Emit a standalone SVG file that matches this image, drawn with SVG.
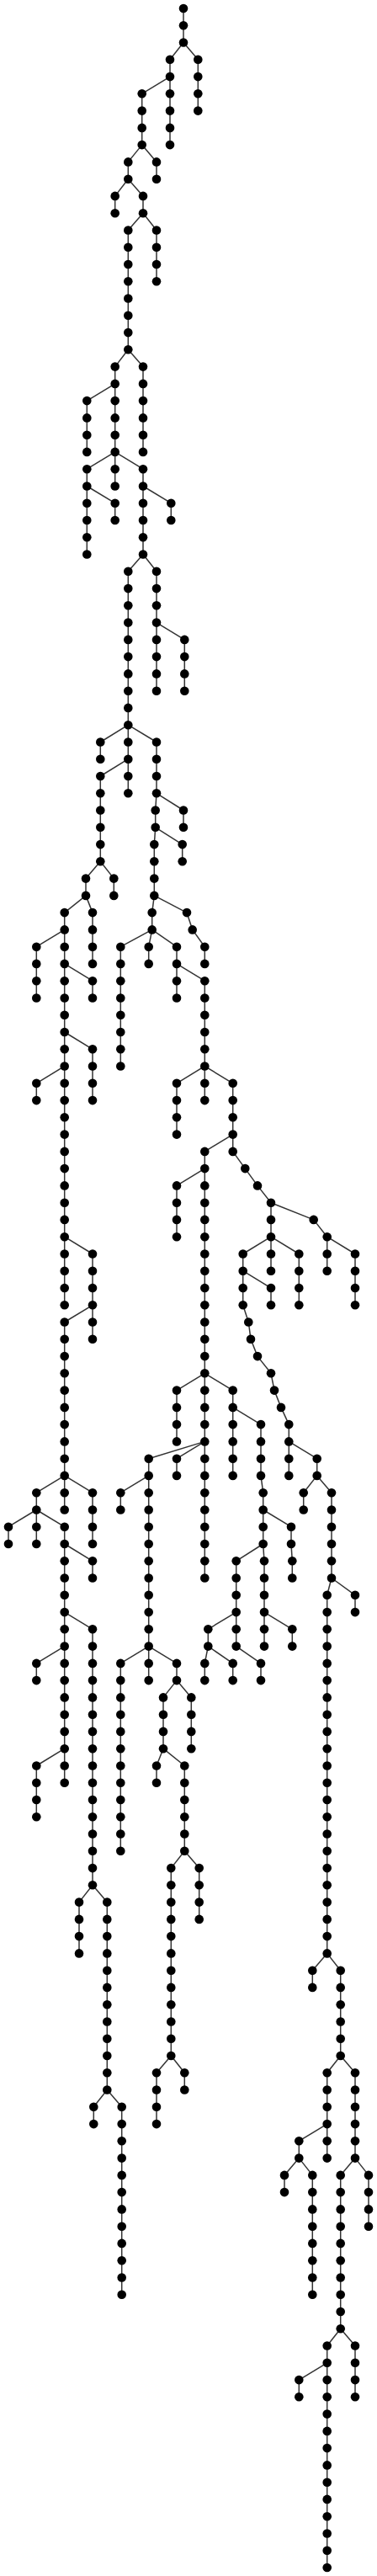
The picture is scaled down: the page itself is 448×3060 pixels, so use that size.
<svg xmlns="http://www.w3.org/2000/svg" width="448" height="3060" viewBox="0 0 448 3060">
<style>#links path{fill:none;stroke:#333;stroke-width:1.5}</style>
<defs><circle id="c" r="5.3" fill="#000"/></defs>
<rect width="448" height="3060" fill="#fff"/>
<g id="links">
<path d="M218 10V30.3"/><path d="M218 30.3V50.5"/>
<path d="M218 50.5L202 70.8"/><path d="M218 50.5L235.3 70.8"/>
<path d="M202 70.8V91.1"/><path d="M235.3 70.8V91.1"/>
<path d="M202 91.1L168.7 111.3"/><path d="M202 91.1V111.3"/><path d="M235.3 91.1V111.3"/>
<path d="M168.7 111.3V131.6"/><path d="M202 111.3V131.6"/><path d="M235.3 111.3V131.6"/>
<path d="M168.7 131.6V151.9"/><path d="M202 131.6V151.9"/>
<path d="M168.7 151.9V172.1"/><path d="M202 151.9V172.1"/>
<path d="M168.7 172.1L152.3 192.4"/><path d="M168.7 172.1L186 192.4"/>
<path d="M152.3 192.4V212.7"/><path d="M186 192.4V212.7"/>
<path d="M152.3 212.7L136.7 232.9"/><path d="M152.3 212.7L170 232.9"/>
<path d="M136.7 232.9V253.2"/><path d="M170 232.9V253.2"/>
<path d="M170 253.2L152.3 273.5"/><path d="M170 253.2L186 273.5"/>
<path d="M152.3 273.5V293.7"/><path d="M186 273.5V293.7"/>
<path d="M152.3 293.7V314"/><path d="M186 293.7V314"/>
<path d="M152.3 314V334.3"/><path d="M186 314V334.3"/>
<path d="M152.3 334.3V354.5"/><path d="M152.3 354.5V374.8"/><path d="M152.3 374.8V395.1"/><path d="M152.3 395.1V415.3"/>
<path d="M152.3 415.3L136.7 435.6"/><path d="M152.3 415.3L170 435.6"/>
<path d="M136.7 435.6V455.9"/><path d="M170 435.6V455.9"/>
<path d="M136.7 455.9L103.3 476.1"/><path d="M136.7 455.9V476.1"/><path d="M170 455.9V476.1"/>
<path d="M103.3 476.1V496.4"/><path d="M136.7 476.1V496.4"/><path d="M170 476.1V496.4"/>
<path d="M103.3 496.4V516.7"/><path d="M136.7 496.4V516.7"/><path d="M170 496.4V516.7"/>
<path d="M103.3 516.7V536.9"/><path d="M136.7 516.7V536.9"/><path d="M170 516.7V536.9"/>
<path d="M136.7 536.9L103.3 557.2"/><path d="M136.7 536.9V557.2"/><path d="M136.7 536.9L170 557.2"/>
<path d="M103.3 557.2V577.5"/><path d="M136.7 557.2V577.5"/><path d="M170 557.2V577.5"/>
<path d="M103.3 577.5V597.7"/><path d="M103.3 577.5L136.7 597.7"/><path d="M170 577.5V597.7"/><path d="M170 577.5L203.3 597.7"/>
<path d="M103.3 597.7V618"/><path d="M136.7 597.7V618"/><path d="M170 597.7V618"/><path d="M203.3 597.7V618"/>
<path d="M103.3 618V638.3"/><path d="M170 618V638.3"/>
<path d="M103.3 638.3V658.5"/><path d="M170 638.3V658.5"/>
<path d="M170 658.5L152.3 678.8"/><path d="M170 658.5L186 678.8"/>
<path d="M152.3 678.8V699.1"/><path d="M186 678.8V699.1"/>
<path d="M152.3 699.1V719.3"/><path d="M186 699.1V719.3"/>
<path d="M152.3 719.3V739.6"/><path d="M186 719.3V739.6"/>
<path d="M152.3 739.6V759.9"/><path d="M186 739.6V759.9"/><path d="M186 739.6L219.3 759.9"/>
<path d="M152.3 759.9V780.1"/><path d="M186 759.9V780.1"/><path d="M219.3 759.9V780.1"/>
<path d="M152.3 780.1V800.4"/><path d="M186 780.1V800.4"/><path d="M219.3 780.1V800.4"/>
<path d="M152.3 800.4V820.7"/><path d="M186 800.4V820.7"/><path d="M219.3 800.4V820.7"/>
<path d="M152.3 820.7V840.9"/><path d="M152.3 840.9V861.2"/>
<path d="M152.3 861.2L119.3 881.5"/><path d="M152.3 861.2V881.5"/><path d="M152.3 861.2L186 881.5"/>
<path d="M119.3 881.5V901.7"/><path d="M152.3 881.5V901.7"/><path d="M186 881.5V901.7"/>
<path d="M152.3 901.7L119.3 922"/><path d="M152.3 901.7V922"/><path d="M186 901.7V922"/>
<path d="M119.3 922V942.3"/><path d="M152.3 922V942.3"/><path d="M186 922V942.3"/>
<path d="M119.3 942.3V962.5"/><path d="M186 942.3L184.7 962.5"/><path d="M186 942.3L218 962.5"/>
<path d="M119.3 962.5V982.8"/><path d="M184.7 962.5V982.8"/><path d="M218 962.5V982.8"/>
<path d="M119.3 982.8V1003.1"/><path d="M184.7 982.8L183.3 1003.1"/><path d="M184.7 982.8L216.7 1003.1"/>
<path d="M119.3 1003.1V1023.3"/><path d="M183.3 1003.1V1023.3"/><path d="M216.7 1003.1V1023.3"/>
<path d="M119.3 1023.3L102 1043.6"/><path d="M119.3 1023.3L135.3 1043.6"/><path d="M183.3 1023.3V1043.6"/>
<path d="M102 1043.6V1063.9"/><path d="M135.3 1043.6V1063.9"/><path d="M183.3 1043.6V1063.9"/>
<path d="M102 1063.9L76.7 1084.1"/><path d="M102 1063.9L110 1084.1"/><path d="M183.3 1063.9L180.7 1084.1"/><path d="M183.3 1063.9L222 1084.1"/>
<path d="M76.7 1084.1V1104.4"/><path d="M110 1084.1V1104.4"/><path d="M180.7 1084.1V1104.4"/><path d="M222 1084.1L228.7 1104.4"/>
<path d="M76.7 1104.4L43.3 1124.7"/><path d="M76.7 1104.4V1124.7"/><path d="M110 1104.4V1124.7"/><path d="M180.7 1104.4L143.3 1124.7"/><path d="M180.7 1104.4L176.7 1124.7"/><path d="M180.7 1104.4L210 1124.7"/><path d="M228.7 1104.4L243.3 1124.7"/>
<path d="M43.3 1124.7V1144.9"/><path d="M76.7 1124.7V1144.9"/><path d="M110 1124.7V1144.9"/><path d="M143.3 1124.7V1144.9"/><path d="M176.7 1124.7V1144.9"/><path d="M210 1124.7V1144.9"/><path d="M243.3 1124.7V1144.9"/>
<path d="M43.3 1144.9V1165.2"/><path d="M76.7 1144.9V1165.2"/><path d="M76.7 1144.9L110 1165.2"/><path d="M143.3 1144.9V1165.2"/><path d="M210 1144.9V1165.2"/><path d="M210 1144.9L243.3 1165.2"/>
<path d="M43.3 1165.2V1185.5"/><path d="M76.7 1165.2V1185.5"/><path d="M110 1165.2V1185.5"/><path d="M143.3 1165.2V1185.5"/><path d="M210 1165.2V1185.5"/><path d="M243.3 1165.2V1185.5"/>
<path d="M76.7 1185.5V1205.7"/><path d="M143.3 1185.5V1205.7"/><path d="M243.3 1185.5V1205.7"/>
<path d="M76.7 1205.7V1226"/><path d="M143.3 1205.7V1226"/><path d="M243.3 1205.7V1226"/>
<path d="M76.7 1226V1246.3"/><path d="M76.7 1226L110 1246.3"/><path d="M143.3 1226V1246.3"/><path d="M243.3 1226V1246.3"/>
<path d="M76.7 1246.3V1266.5"/><path d="M110 1246.3V1266.5"/><path d="M143.3 1246.3V1266.5"/><path d="M243.3 1246.3V1266.5"/>
<path d="M76.7 1266.5L43.3 1286.8"/><path d="M76.7 1266.5V1286.8"/><path d="M110 1266.5V1286.8"/><path d="M243.3 1266.5L210 1286.8"/><path d="M243.3 1266.5V1286.8"/><path d="M243.3 1266.5L276.7 1286.8"/>
<path d="M43.3 1286.8V1307.1"/><path d="M76.7 1286.8V1307.1"/><path d="M110 1286.8V1307.1"/><path d="M210 1286.8V1307.1"/><path d="M243.3 1286.8V1307.1"/><path d="M276.7 1286.8V1307.1"/>
<path d="M76.7 1307.1V1327.3"/><path d="M210 1307.1V1327.3"/><path d="M276.7 1307.1V1327.3"/>
<path d="M76.7 1327.3V1347.6"/><path d="M210 1327.3V1347.6"/><path d="M276.7 1327.3V1347.6"/>
<path d="M76.7 1347.6V1367.9"/><path d="M276.7 1347.6L243.3 1367.9"/><path d="M276.7 1347.6V1367.9"/>
<path d="M76.7 1367.9V1388.1"/><path d="M243.3 1367.9V1388.1"/><path d="M276.7 1367.9L291.3 1388.1"/>
<path d="M76.7 1388.1V1408.4"/><path d="M243.3 1388.1L210 1408.4"/><path d="M243.3 1388.1V1408.4"/><path d="M291.3 1388.1L306 1408.4"/>
<path d="M76.7 1408.4V1428.7"/><path d="M210 1408.4V1428.7"/><path d="M243.3 1408.4V1428.7"/><path d="M306 1408.4L322 1428.7"/>
<path d="M76.7 1428.7V1448.9"/><path d="M210 1428.7V1448.9"/><path d="M243.3 1428.7V1448.9"/><path d="M322 1428.7V1448.9"/><path d="M322 1428.7L372.7 1448.9"/>
<path d="M76.7 1448.9V1469.2"/><path d="M210 1448.9V1469.2"/><path d="M243.3 1448.9V1469.2"/><path d="M322 1448.9V1469.2"/><path d="M372.7 1448.9L388.7 1469.2"/>
<path d="M76.7 1469.2V1489.5"/><path d="M76.7 1469.2L110 1489.5"/><path d="M243.3 1469.2V1489.5"/><path d="M322 1469.2L288.7 1489.5"/><path d="M322 1469.2V1489.5"/><path d="M322 1469.2L355.3 1489.5"/><path d="M388.7 1469.2V1489.5"/><path d="M388.7 1469.2L422 1489.5"/>
<path d="M76.7 1489.5V1509.7"/><path d="M110 1489.5V1509.7"/><path d="M243.3 1489.5V1509.7"/><path d="M288.7 1489.5V1509.7"/><path d="M322 1489.5V1509.7"/><path d="M355.3 1489.5V1509.7"/><path d="M388.7 1489.5V1509.7"/><path d="M422 1489.5V1509.7"/>
<path d="M76.7 1509.7V1530"/><path d="M110 1509.7V1530"/><path d="M243.3 1509.7V1530"/><path d="M288.7 1509.7V1530"/><path d="M288.7 1509.7L322 1530"/><path d="M355.3 1509.7V1530"/><path d="M422 1509.7V1530"/>
<path d="M76.7 1530V1550.3"/><path d="M110 1530V1550.3"/><path d="M243.3 1530V1550.3"/><path d="M288.7 1530V1550.3"/><path d="M322 1530V1550.3"/><path d="M355.3 1530V1550.3"/><path d="M422 1530V1550.3"/>
<path d="M110 1550.3L76.7 1570.5"/><path d="M110 1550.3V1570.5"/><path d="M243.3 1550.3V1570.5"/><path d="M288.7 1550.3L295.3 1570.5"/>
<path d="M76.7 1570.5V1590.8"/><path d="M110 1570.5V1590.8"/><path d="M243.3 1570.5V1590.8"/><path d="M295.3 1570.5L298 1590.8"/>
<path d="M76.7 1590.8V1611.1"/><path d="M243.3 1590.8V1611.1"/><path d="M298 1590.8L306 1611.1"/>
<path d="M76.7 1611.1V1631.3"/><path d="M243.3 1611.1V1631.3"/><path d="M306 1611.1L322 1631.3"/>
<path d="M76.7 1631.3V1651.6"/><path d="M243.3 1631.3L210 1651.6"/><path d="M243.3 1631.3V1651.6"/><path d="M243.3 1631.3L276.7 1651.6"/><path d="M322 1631.3L326 1651.6"/>
<path d="M76.7 1651.6V1671.9"/><path d="M210 1651.6V1671.9"/><path d="M243.3 1651.6V1671.9"/><path d="M276.7 1651.6V1671.9"/><path d="M326 1651.6L334 1671.9"/>
<path d="M76.7 1671.9V1692.1"/><path d="M210 1671.9V1692.1"/><path d="M243.3 1671.9V1692.1"/><path d="M276.7 1671.9V1692.1"/><path d="M276.7 1671.9L310 1692.1"/><path d="M334 1671.9L343.3 1692.1"/>
<path d="M76.7 1692.1V1712.4"/><path d="M210 1692.1V1712.4"/><path d="M243.3 1692.1V1712.4"/><path d="M276.7 1692.1V1712.4"/><path d="M310 1692.1V1712.4"/><path d="M343.3 1692.1V1712.4"/>
<path d="M76.7 1712.4V1732.7"/><path d="M243.3 1712.4L176.7 1732.7"/><path d="M243.3 1712.4L210 1732.7"/><path d="M243.3 1712.4V1732.7"/><path d="M276.7 1712.4V1732.7"/><path d="M310 1712.4V1732.7"/><path d="M343.3 1712.4V1732.7"/><path d="M343.3 1712.4L376.7 1732.7"/>
<path d="M76.7 1732.7V1752.9"/><path d="M176.7 1732.7V1752.9"/><path d="M210 1732.7V1752.9"/><path d="M243.3 1732.7V1752.9"/><path d="M276.7 1732.7V1752.9"/><path d="M310 1732.7V1752.9"/><path d="M343.3 1732.7V1752.9"/><path d="M376.7 1732.7V1752.9"/>
<path d="M76.7 1752.9L43.3 1773.2"/><path d="M76.7 1752.9V1773.2"/><path d="M76.7 1752.9L110 1773.2"/><path d="M176.7 1752.9L143.3 1773.2"/><path d="M176.7 1752.9V1773.2"/><path d="M243.3 1752.9V1773.2"/><path d="M310 1752.9L312.7 1773.2"/><path d="M376.7 1752.9L360.7 1773.2"/><path d="M376.7 1752.9L394 1773.2"/>
<path d="M43.3 1773.2V1793.5"/><path d="M76.7 1773.2V1793.5"/><path d="M110 1773.2V1793.5"/><path d="M143.3 1773.2V1793.5"/><path d="M176.7 1773.2V1793.5"/><path d="M243.3 1773.2V1793.5"/><path d="M312.7 1773.2V1793.5"/><path d="M360.7 1773.2V1793.5"/><path d="M394 1773.2V1793.5"/>
<path d="M43.3 1793.5L10 1813.7"/><path d="M43.3 1793.5V1813.7"/><path d="M43.3 1793.5L76.7 1813.7"/><path d="M110 1793.5V1813.7"/><path d="M176.7 1793.5V1813.7"/><path d="M243.3 1793.5V1813.7"/><path d="M312.7 1793.5V1813.7"/><path d="M312.7 1793.5L346 1813.7"/><path d="M394 1793.5V1813.7"/>
<path d="M10 1813.7V1834"/><path d="M43.3 1813.7V1834"/><path d="M76.7 1813.7V1834"/><path d="M110 1813.7V1834"/><path d="M176.7 1813.7V1834"/><path d="M243.3 1813.7V1834"/><path d="M312.7 1813.7V1834"/><path d="M346 1813.7V1834"/><path d="M394 1813.7V1834"/>
<path d="M76.7 1834V1854.3"/><path d="M76.7 1834L110 1854.3"/><path d="M176.7 1834V1854.3"/><path d="M243.3 1834V1854.3"/><path d="M312.7 1834L280.7 1854.3"/><path d="M312.7 1834L314 1854.3"/><path d="M346 1834L347.3 1854.3"/><path d="M394 1834V1854.3"/>
<path d="M76.7 1854.3V1874.5"/><path d="M110 1854.3V1874.5"/><path d="M176.7 1854.3V1874.5"/><path d="M243.3 1854.3V1874.5"/><path d="M280.7 1854.3V1874.5"/><path d="M314 1854.3V1874.5"/><path d="M347.3 1854.3V1874.5"/><path d="M394 1854.3V1874.5"/>
<path d="M76.7 1874.5V1894.8"/><path d="M176.7 1874.5V1894.8"/><path d="M280.7 1874.5V1894.8"/><path d="M314 1874.5V1894.8"/><path d="M394 1874.5L388.7 1894.8"/><path d="M394 1874.5L422 1894.8"/>
<path d="M76.7 1894.8V1915.1"/><path d="M176.7 1894.8V1915.1"/><path d="M280.7 1894.8V1915.1"/><path d="M314 1894.8V1915.1"/><path d="M388.7 1894.8V1915.1"/><path d="M422 1894.8V1915.1"/>
<path d="M76.7 1915.1V1935.3"/><path d="M76.7 1915.1L110 1935.3"/><path d="M176.7 1915.1V1935.3"/><path d="M280.7 1915.1L247.3 1935.3"/><path d="M280.7 1915.1V1935.3"/><path d="M314 1915.1V1935.3"/><path d="M314 1915.1L347.3 1935.3"/><path d="M388.7 1915.1V1935.3"/>
<path d="M76.7 1935.3V1955.6"/><path d="M110 1935.3V1955.6"/><path d="M176.7 1935.3V1955.6"/><path d="M247.3 1935.3V1955.6"/><path d="M280.7 1935.3V1955.6"/><path d="M314 1935.3V1955.6"/><path d="M347.3 1935.3V1955.6"/><path d="M388.7 1935.3V1955.6"/>
<path d="M76.7 1955.6L43.3 1975.9"/><path d="M76.7 1955.6V1975.9"/><path d="M110 1955.6V1975.9"/><path d="M176.7 1955.6L143.3 1975.9"/><path d="M176.7 1955.6V1975.9"/><path d="M176.7 1955.6L210 1975.9"/><path d="M247.3 1955.6L243.3 1975.9"/><path d="M247.3 1955.6L276.7 1975.9"/><path d="M280.7 1955.6L310 1975.9"/><path d="M388.7 1955.6V1975.9"/>
<path d="M43.3 1975.9V1996.1"/><path d="M76.7 1975.9V1996.1"/><path d="M110 1975.9V1996.1"/><path d="M143.3 1975.9V1996.1"/><path d="M176.7 1975.9V1996.1"/><path d="M210 1975.9V1996.1"/><path d="M243.3 1975.9V1996.1"/><path d="M276.7 1975.9V1996.1"/><path d="M310 1975.9V1996.1"/><path d="M388.7 1975.9V1996.1"/>
<path d="M76.7 1996.1V2016.4"/><path d="M110 1996.1V2016.4"/><path d="M143.3 1996.1V2016.4"/><path d="M210 1996.1L194 2016.4"/><path d="M210 1996.1L227.3 2016.4"/><path d="M388.7 1996.1V2016.4"/>
<path d="M76.7 2016.4V2036.7"/><path d="M110 2016.4V2036.7"/><path d="M143.3 2016.4V2036.7"/><path d="M194 2016.4V2036.7"/><path d="M227.3 2016.4V2036.7"/><path d="M388.7 2016.4V2036.7"/>
<path d="M76.7 2036.7V2056.9"/><path d="M110 2036.7V2056.9"/><path d="M143.3 2036.7V2056.9"/><path d="M194 2036.7V2056.9"/><path d="M227.3 2036.7V2056.9"/><path d="M388.7 2036.7V2056.9"/>
<path d="M76.7 2056.9V2077.2"/><path d="M110 2056.9V2077.2"/><path d="M143.3 2056.9V2077.2"/><path d="M194 2056.9V2077.2"/><path d="M227.3 2056.9V2077.2"/><path d="M388.7 2056.9V2077.2"/>
<path d="M76.7 2077.2L43.3 2097.5"/><path d="M76.7 2077.2V2097.5"/><path d="M110 2077.2V2097.5"/><path d="M143.3 2077.2V2097.5"/><path d="M194 2077.2L186 2097.5"/><path d="M194 2077.2L219.3 2097.5"/><path d="M388.7 2077.2V2097.5"/>
<path d="M43.3 2097.5V2117.7"/><path d="M76.7 2097.5V2117.7"/><path d="M110 2097.5V2117.7"/><path d="M143.3 2097.5V2117.7"/><path d="M186 2097.5V2117.7"/><path d="M219.3 2097.5V2117.7"/><path d="M388.7 2097.5V2117.7"/>
<path d="M43.3 2117.7V2138"/><path d="M110 2117.7V2138"/><path d="M143.3 2117.7V2138"/><path d="M219.3 2117.7V2138"/><path d="M388.7 2117.7V2138"/>
<path d="M43.3 2138V2158.3"/><path d="M110 2138V2158.3"/><path d="M143.3 2138V2158.3"/><path d="M219.3 2138V2158.3"/><path d="M388.7 2138V2158.3"/>
<path d="M110 2158.3V2178.5"/><path d="M143.3 2158.3V2178.5"/><path d="M219.3 2158.3V2178.5"/><path d="M388.7 2158.3V2178.5"/>
<path d="M110 2178.5V2198.8"/><path d="M143.3 2178.5V2198.8"/><path d="M219.3 2178.5V2198.8"/><path d="M388.7 2178.5V2198.8"/>
<path d="M110 2198.8V2219.1"/><path d="M219.3 2198.8L203.3 2219.1"/><path d="M219.3 2198.8L236.7 2219.1"/><path d="M388.7 2198.8V2219.1"/>
<path d="M110 2219.1V2239.3"/><path d="M203.3 2219.1V2239.3"/><path d="M236.7 2219.1V2239.3"/><path d="M388.7 2219.1V2239.3"/>
<path d="M110 2239.3L94 2259.6"/><path d="M110 2239.3L127.3 2259.6"/><path d="M203.3 2239.3V2259.6"/><path d="M236.7 2239.3V2259.6"/><path d="M388.7 2239.3V2259.6"/>
<path d="M94 2259.6V2279.9"/><path d="M127.3 2259.6V2279.9"/><path d="M203.3 2259.6V2279.9"/><path d="M236.7 2259.6V2279.9"/><path d="M388.7 2259.6V2279.9"/>
<path d="M94 2279.9V2300.1"/><path d="M127.3 2279.9V2300.1"/><path d="M203.3 2279.9V2300.1"/><path d="M388.7 2279.9V2300.1"/>
<path d="M94 2300.1V2320.4"/><path d="M127.3 2300.1V2320.4"/><path d="M203.3 2300.1V2320.4"/><path d="M388.7 2300.1V2320.4"/>
<path d="M127.3 2320.4V2340.7"/><path d="M203.3 2320.4V2340.7"/><path d="M388.7 2320.4L371.3 2340.7"/><path d="M388.7 2320.4L404.7 2340.7"/>
<path d="M127.3 2340.7V2360.9"/><path d="M203.3 2340.7V2360.9"/><path d="M371.3 2340.7V2360.9"/><path d="M404.7 2340.7V2360.9"/>
<path d="M127.3 2360.9V2381.2"/><path d="M203.3 2360.9V2381.2"/><path d="M404.7 2360.9V2381.2"/>
<path d="M127.3 2381.2V2401.5"/><path d="M203.3 2381.2V2401.5"/><path d="M404.7 2381.2V2401.5"/>
<path d="M127.3 2401.5V2421.7"/><path d="M203.3 2401.5V2421.7"/><path d="M404.7 2401.5V2421.7"/>
<path d="M127.3 2421.7V2442"/><path d="M203.3 2421.7V2442"/><path d="M404.7 2421.7V2442"/>
<path d="M127.3 2442V2462.3"/><path d="M203.3 2442L186 2462.3"/><path d="M203.3 2442L219.3 2462.3"/><path d="M404.7 2442L388.7 2462.3"/><path d="M404.7 2442L422 2462.3"/>
<path d="M127.3 2462.3V2482.5"/><path d="M186 2462.3V2482.5"/><path d="M219.3 2462.3V2482.5"/><path d="M388.7 2462.3V2482.5"/><path d="M422 2462.3V2482.5"/>
<path d="M127.3 2482.5L111.3 2502.8"/><path d="M127.3 2482.5L144.7 2502.8"/><path d="M186 2482.5V2502.8"/><path d="M388.7 2482.5V2502.8"/><path d="M422 2482.5V2502.8"/>
<path d="M111.3 2502.8V2523.1"/><path d="M144.7 2502.8V2523.1"/><path d="M186 2502.8V2523.1"/><path d="M388.7 2502.8V2523.1"/><path d="M422 2502.8V2523.1"/>
<path d="M144.7 2523.1V2543.3"/><path d="M388.7 2523.1L355.3 2543.3"/><path d="M388.7 2523.1V2543.3"/><path d="M422 2523.1V2543.3"/>
<path d="M144.7 2543.3V2563.6"/><path d="M355.3 2543.3V2563.6"/><path d="M388.7 2543.3V2563.6"/><path d="M422 2543.3V2563.6"/>
<path d="M144.7 2563.6V2583.9"/><path d="M355.3 2563.6L338 2583.9"/><path d="M355.3 2563.6L371.3 2583.9"/><path d="M422 2563.6L404.7 2583.9"/><path d="M422 2563.6L438 2583.9"/>
<path d="M144.7 2583.9V2604.1"/><path d="M338 2583.9V2604.1"/><path d="M371.3 2583.9V2604.1"/><path d="M404.7 2583.9V2604.1"/><path d="M438 2583.9V2604.1"/>
<path d="M144.7 2604.1V2624.4"/><path d="M371.3 2604.1V2624.4"/><path d="M404.7 2604.1V2624.4"/><path d="M438 2604.1V2624.4"/>
<path d="M144.7 2624.4V2644.7"/><path d="M371.3 2624.4V2644.7"/><path d="M404.7 2624.4V2644.7"/><path d="M438 2624.4V2644.7"/>
<path d="M144.7 2644.7V2664.9"/><path d="M371.3 2644.7V2664.9"/><path d="M404.7 2644.7V2664.9"/>
<path d="M144.7 2664.9V2685.2"/><path d="M371.3 2664.9V2685.2"/><path d="M404.7 2664.9V2685.2"/>
<path d="M144.7 2685.2V2705.5"/><path d="M371.3 2685.2V2705.5"/><path d="M404.7 2685.2V2705.5"/>
<path d="M144.7 2705.5V2725.7"/><path d="M371.3 2705.5V2725.7"/><path d="M404.7 2705.5V2725.7"/>
<path d="M404.7 2725.7V2746"/><path d="M404.7 2746V2766.3"/>
<path d="M404.7 2766.3L388.7 2786.5"/><path d="M404.7 2766.3L422 2786.5"/>
<path d="M388.7 2786.5V2806.8"/><path d="M422 2786.5V2806.8"/>
<path d="M388.7 2806.8L355.3 2827.1"/><path d="M388.7 2806.8V2827.1"/><path d="M422 2806.8V2827.1"/>
<path d="M355.3 2827.1V2847.3"/><path d="M388.7 2827.1V2847.3"/><path d="M422 2827.1V2847.3"/>
<path d="M388.7 2847.3V2867.6"/><path d="M388.7 2867.6V2887.9"/><path d="M388.7 2887.9V2908.1"/><path d="M388.7 2908.1V2928.4"/><path d="M388.7 2928.4V2948.7"/><path d="M388.7 2948.7V2968.9"/><path d="M388.7 2968.9V2989.2"/><path d="M388.7 2989.2V3009.5"/><path d="M388.7 3009.5V3029.7"/><path d="M388.7 3029.7V3050"/>
</g>
<g id="nodes">
<g id="n0-1"><use href="#c" x="218" y="10"/></g>
<g id="n1-1"><use href="#c" x="218" y="30.3"/></g>
<g id="n2-1"><use href="#c" x="218" y="50.5"/></g>
<g id="n3-1"><use href="#c" x="202" y="70.8"/></g><g id="n3-2"><use href="#c" x="235.3" y="70.8"/></g>
<g id="n4-1"><use href="#c" x="202" y="91.1"/></g><g id="n4-2"><use href="#c" x="235.3" y="91.1"/></g>
<g id="n5-1"><use href="#c" x="168.7" y="111.3"/></g><g id="n5-2"><use href="#c" x="202" y="111.3"/></g><g id="n5-3"><use href="#c" x="235.3" y="111.3"/></g>
<g id="n6-1"><use href="#c" x="168.7" y="131.6"/></g><g id="n6-2"><use href="#c" x="202" y="131.6"/></g><g id="n6-3"><use href="#c" x="235.3" y="131.6"/></g>
<g id="n7-1"><use href="#c" x="168.7" y="151.9"/></g><g id="n7-2"><use href="#c" x="202" y="151.9"/></g>
<g id="n8-1"><use href="#c" x="168.7" y="172.1"/></g><g id="n8-2"><use href="#c" x="202" y="172.1"/></g>
<g id="n9-1"><use href="#c" x="152.3" y="192.4"/></g><g id="n9-2"><use href="#c" x="186" y="192.4"/></g>
<g id="n10-1"><use href="#c" x="152.3" y="212.7"/></g><g id="n10-2"><use href="#c" x="186" y="212.7"/></g>
<g id="n11-1"><use href="#c" x="136.7" y="232.9"/></g><g id="n11-2"><use href="#c" x="170" y="232.9"/></g>
<g id="n12-1"><use href="#c" x="136.7" y="253.2"/></g><g id="n12-2"><use href="#c" x="170" y="253.2"/></g>
<g id="n13-1"><use href="#c" x="152.3" y="273.5"/></g><g id="n13-2"><use href="#c" x="186" y="273.5"/></g>
<g id="n14-1"><use href="#c" x="152.3" y="293.7"/></g><g id="n14-2"><use href="#c" x="186" y="293.7"/></g>
<g id="n15-1"><use href="#c" x="152.3" y="314"/></g><g id="n15-2"><use href="#c" x="186" y="314"/></g>
<g id="n16-1"><use href="#c" x="152.3" y="334.3"/></g><g id="n16-2"><use href="#c" x="186" y="334.3"/></g>
<g id="n17-1"><use href="#c" x="152.3" y="354.5"/></g>
<g id="n18-1"><use href="#c" x="152.3" y="374.8"/></g>
<g id="n19-1"><use href="#c" x="152.3" y="395.1"/></g>
<g id="n20-1"><use href="#c" x="152.3" y="415.3"/></g>
<g id="n21-1"><use href="#c" x="136.7" y="435.6"/></g><g id="n21-2"><use href="#c" x="170" y="435.6"/></g>
<g id="n22-1"><use href="#c" x="136.7" y="455.9"/></g><g id="n22-2"><use href="#c" x="170" y="455.9"/></g>
<g id="n23-1"><use href="#c" x="103.3" y="476.1"/></g><g id="n23-2"><use href="#c" x="136.7" y="476.1"/></g><g id="n23-3"><use href="#c" x="170" y="476.1"/></g>
<g id="n24-1"><use href="#c" x="103.3" y="496.4"/></g><g id="n24-2"><use href="#c" x="136.7" y="496.4"/></g><g id="n24-3"><use href="#c" x="170" y="496.4"/></g>
<g id="n25-1"><use href="#c" x="103.3" y="516.7"/></g><g id="n25-2"><use href="#c" x="136.7" y="516.7"/></g><g id="n25-3"><use href="#c" x="170" y="516.7"/></g>
<g id="n26-1"><use href="#c" x="103.3" y="536.9"/></g><g id="n26-2"><use href="#c" x="136.7" y="536.9"/></g><g id="n26-3"><use href="#c" x="170" y="536.9"/></g>
<g id="n27-1"><use href="#c" x="103.3" y="557.2"/></g><g id="n27-2"><use href="#c" x="136.7" y="557.2"/></g><g id="n27-3"><use href="#c" x="170" y="557.2"/></g>
<g id="n28-1"><use href="#c" x="103.3" y="577.5"/></g><g id="n28-2"><use href="#c" x="136.7" y="577.5"/></g><g id="n28-3"><use href="#c" x="170" y="577.5"/></g>
<g id="n29-1"><use href="#c" x="103.3" y="597.7"/></g><g id="n29-2"><use href="#c" x="136.7" y="597.7"/></g><g id="n29-3"><use href="#c" x="170" y="597.7"/></g><g id="n29-4"><use href="#c" x="203.3" y="597.7"/></g>
<g id="n30-1"><use href="#c" x="103.3" y="618"/></g><g id="n30-2"><use href="#c" x="136.7" y="618"/></g><g id="n30-3"><use href="#c" x="170" y="618"/></g><g id="n30-4"><use href="#c" x="203.3" y="618"/></g>
<g id="n31-1"><use href="#c" x="103.3" y="638.3"/></g><g id="n31-2"><use href="#c" x="170" y="638.3"/></g>
<g id="n32-1"><use href="#c" x="103.3" y="658.5"/></g><g id="n32-2"><use href="#c" x="170" y="658.5"/></g>
<g id="n33-1"><use href="#c" x="152.3" y="678.8"/></g><g id="n33-2"><use href="#c" x="186" y="678.8"/></g>
<g id="n34-1"><use href="#c" x="152.3" y="699.1"/></g><g id="n34-2"><use href="#c" x="186" y="699.1"/></g>
<g id="n35-1"><use href="#c" x="152.3" y="719.3"/></g><g id="n35-2"><use href="#c" x="186" y="719.3"/></g>
<g id="n36-1"><use href="#c" x="152.3" y="739.6"/></g><g id="n36-2"><use href="#c" x="186" y="739.6"/></g>
<g id="n37-1"><use href="#c" x="152.3" y="759.9"/></g><g id="n37-2"><use href="#c" x="186" y="759.9"/></g><g id="n37-3"><use href="#c" x="219.3" y="759.9"/></g>
<g id="n38-1"><use href="#c" x="152.3" y="780.1"/></g><g id="n38-2"><use href="#c" x="186" y="780.1"/></g><g id="n38-3"><use href="#c" x="219.3" y="780.1"/></g>
<g id="n39-1"><use href="#c" x="152.3" y="800.4"/></g><g id="n39-2"><use href="#c" x="186" y="800.4"/></g><g id="n39-3"><use href="#c" x="219.3" y="800.4"/></g>
<g id="n40-1"><use href="#c" x="152.3" y="820.7"/></g><g id="n40-2"><use href="#c" x="186" y="820.7"/></g><g id="n40-3"><use href="#c" x="219.3" y="820.7"/></g>
<g id="n41-1"><use href="#c" x="152.3" y="840.9"/></g>
<g id="n42-1"><use href="#c" x="152.3" y="861.2"/></g>
<g id="n43-1"><use href="#c" x="119.3" y="881.5"/></g><g id="n43-2"><use href="#c" x="152.3" y="881.5"/></g><g id="n43-3"><use href="#c" x="186" y="881.5"/></g>
<g id="n44-1"><use href="#c" x="119.3" y="901.7"/></g><g id="n44-2"><use href="#c" x="152.3" y="901.7"/></g><g id="n44-3"><use href="#c" x="186" y="901.7"/></g>
<g id="n45-1"><use href="#c" x="119.3" y="922"/></g><g id="n45-2"><use href="#c" x="152.3" y="922"/></g><g id="n45-3"><use href="#c" x="186" y="922"/></g>
<g id="n46-1"><use href="#c" x="119.3" y="942.3"/></g><g id="n46-2"><use href="#c" x="152.3" y="942.3"/></g><g id="n46-3"><use href="#c" x="186" y="942.3"/></g>
<g id="n47-1"><use href="#c" x="119.3" y="962.5"/></g><g id="n47-2"><use href="#c" x="184.7" y="962.5"/></g><g id="n47-3"><use href="#c" x="218" y="962.5"/></g>
<g id="n48-1"><use href="#c" x="119.3" y="982.8"/></g><g id="n48-2"><use href="#c" x="184.7" y="982.8"/></g><g id="n48-3"><use href="#c" x="218" y="982.8"/></g>
<g id="n49-1"><use href="#c" x="119.3" y="1003.1"/></g><g id="n49-2"><use href="#c" x="183.3" y="1003.1"/></g><g id="n49-3"><use href="#c" x="216.7" y="1003.1"/></g>
<g id="n50-1"><use href="#c" x="119.3" y="1023.3"/></g><g id="n50-2"><use href="#c" x="183.3" y="1023.3"/></g><g id="n50-3"><use href="#c" x="216.7" y="1023.3"/></g>
<g id="n51-1"><use href="#c" x="102" y="1043.6"/></g><g id="n51-2"><use href="#c" x="135.3" y="1043.6"/></g><g id="n51-3"><use href="#c" x="183.3" y="1043.6"/></g>
<g id="n52-1"><use href="#c" x="102" y="1063.9"/></g><g id="n52-2"><use href="#c" x="135.3" y="1063.9"/></g><g id="n52-3"><use href="#c" x="183.3" y="1063.9"/></g>
<g id="n53-1"><use href="#c" x="76.7" y="1084.1"/></g><g id="n53-2"><use href="#c" x="110" y="1084.1"/></g><g id="n53-3"><use href="#c" x="180.7" y="1084.1"/></g><g id="n53-4"><use href="#c" x="222" y="1084.1"/></g>
<g id="n54-1"><use href="#c" x="76.7" y="1104.4"/></g><g id="n54-2"><use href="#c" x="110" y="1104.4"/></g><g id="n54-3"><use href="#c" x="180.7" y="1104.4"/></g><g id="n54-4"><use href="#c" x="228.7" y="1104.4"/></g>
<g id="n55-1"><use href="#c" x="43.3" y="1124.7"/></g><g id="n55-2"><use href="#c" x="76.7" y="1124.7"/></g><g id="n55-3"><use href="#c" x="110" y="1124.7"/></g><g id="n55-4"><use href="#c" x="143.3" y="1124.7"/></g><g id="n55-5"><use href="#c" x="176.7" y="1124.7"/></g><g id="n55-6"><use href="#c" x="210" y="1124.7"/></g><g id="n55-7"><use href="#c" x="243.3" y="1124.7"/></g>
<g id="n56-1"><use href="#c" x="43.3" y="1144.9"/></g><g id="n56-2"><use href="#c" x="76.7" y="1144.9"/></g><g id="n56-3"><use href="#c" x="110" y="1144.9"/></g><g id="n56-4"><use href="#c" x="143.3" y="1144.9"/></g><g id="n56-5"><use href="#c" x="176.7" y="1144.9"/></g><g id="n56-6"><use href="#c" x="210" y="1144.9"/></g><g id="n56-7"><use href="#c" x="243.3" y="1144.9"/></g>
<g id="n57-1"><use href="#c" x="43.3" y="1165.2"/></g><g id="n57-2"><use href="#c" x="76.7" y="1165.2"/></g><g id="n57-3"><use href="#c" x="110" y="1165.2"/></g><g id="n57-4"><use href="#c" x="143.3" y="1165.2"/></g><g id="n57-5"><use href="#c" x="210" y="1165.2"/></g><g id="n57-6"><use href="#c" x="243.3" y="1165.2"/></g>
<g id="n58-1"><use href="#c" x="43.3" y="1185.5"/></g><g id="n58-2"><use href="#c" x="76.7" y="1185.5"/></g><g id="n58-3"><use href="#c" x="110" y="1185.5"/></g><g id="n58-4"><use href="#c" x="143.3" y="1185.5"/></g><g id="n58-5"><use href="#c" x="210" y="1185.5"/></g><g id="n58-6"><use href="#c" x="243.3" y="1185.5"/></g>
<g id="n59-1"><use href="#c" x="76.7" y="1205.7"/></g><g id="n59-2"><use href="#c" x="143.3" y="1205.7"/></g><g id="n59-3"><use href="#c" x="243.3" y="1205.7"/></g>
<g id="n60-1"><use href="#c" x="76.7" y="1226"/></g><g id="n60-2"><use href="#c" x="143.3" y="1226"/></g><g id="n60-3"><use href="#c" x="243.3" y="1226"/></g>
<g id="n61-1"><use href="#c" x="76.7" y="1246.3"/></g><g id="n61-2"><use href="#c" x="110" y="1246.3"/></g><g id="n61-3"><use href="#c" x="143.3" y="1246.3"/></g><g id="n61-4"><use href="#c" x="243.3" y="1246.3"/></g>
<g id="n62-1"><use href="#c" x="76.7" y="1266.5"/></g><g id="n62-2"><use href="#c" x="110" y="1266.5"/></g><g id="n62-3"><use href="#c" x="143.3" y="1266.5"/></g><g id="n62-4"><use href="#c" x="243.3" y="1266.5"/></g>
<g id="n63-1"><use href="#c" x="43.3" y="1286.8"/></g><g id="n63-2"><use href="#c" x="76.7" y="1286.8"/></g><g id="n63-3"><use href="#c" x="110" y="1286.8"/></g><g id="n63-4"><use href="#c" x="210" y="1286.8"/></g><g id="n63-5"><use href="#c" x="243.3" y="1286.8"/></g><g id="n63-6"><use href="#c" x="276.7" y="1286.8"/></g>
<g id="n64-1"><use href="#c" x="43.3" y="1307.1"/></g><g id="n64-2"><use href="#c" x="76.7" y="1307.1"/></g><g id="n64-3"><use href="#c" x="110" y="1307.1"/></g><g id="n64-4"><use href="#c" x="210" y="1307.1"/></g><g id="n64-5"><use href="#c" x="243.3" y="1307.1"/></g><g id="n64-6"><use href="#c" x="276.7" y="1307.1"/></g>
<g id="n65-1"><use href="#c" x="76.7" y="1327.3"/></g><g id="n65-2"><use href="#c" x="210" y="1327.3"/></g><g id="n65-3"><use href="#c" x="276.7" y="1327.3"/></g>
<g id="n66-1"><use href="#c" x="76.7" y="1347.6"/></g><g id="n66-2"><use href="#c" x="210" y="1347.6"/></g><g id="n66-3"><use href="#c" x="276.7" y="1347.6"/></g>
<g id="n67-1"><use href="#c" x="76.7" y="1367.9"/></g><g id="n67-2"><use href="#c" x="243.3" y="1367.9"/></g><g id="n67-3"><use href="#c" x="276.7" y="1367.9"/></g>
<g id="n68-1"><use href="#c" x="76.7" y="1388.1"/></g><g id="n68-2"><use href="#c" x="243.3" y="1388.1"/></g><g id="n68-3"><use href="#c" x="291.3" y="1388.1"/></g>
<g id="n69-1"><use href="#c" x="76.7" y="1408.4"/></g><g id="n69-2"><use href="#c" x="210" y="1408.4"/></g><g id="n69-3"><use href="#c" x="243.3" y="1408.4"/></g><g id="n69-4"><use href="#c" x="306" y="1408.4"/></g>
<g id="n70-1"><use href="#c" x="76.7" y="1428.7"/></g><g id="n70-2"><use href="#c" x="210" y="1428.7"/></g><g id="n70-3"><use href="#c" x="243.3" y="1428.7"/></g><g id="n70-4"><use href="#c" x="322" y="1428.7"/></g>
<g id="n71-1"><use href="#c" x="76.7" y="1448.9"/></g><g id="n71-2"><use href="#c" x="210" y="1448.9"/></g><g id="n71-3"><use href="#c" x="243.3" y="1448.9"/></g><g id="n71-4"><use href="#c" x="322" y="1448.9"/></g><g id="n71-5"><use href="#c" x="372.7" y="1448.9"/></g>
<g id="n72-1"><use href="#c" x="76.7" y="1469.2"/></g><g id="n72-2"><use href="#c" x="210" y="1469.2"/></g><g id="n72-3"><use href="#c" x="243.3" y="1469.2"/></g><g id="n72-4"><use href="#c" x="322" y="1469.2"/></g><g id="n72-5"><use href="#c" x="388.7" y="1469.2"/></g>
<g id="n73-1"><use href="#c" x="76.7" y="1489.5"/></g><g id="n73-2"><use href="#c" x="110" y="1489.5"/></g><g id="n73-3"><use href="#c" x="243.3" y="1489.5"/></g><g id="n73-4"><use href="#c" x="288.7" y="1489.5"/></g><g id="n73-5"><use href="#c" x="322" y="1489.5"/></g><g id="n73-6"><use href="#c" x="355.3" y="1489.5"/></g><g id="n73-7"><use href="#c" x="388.7" y="1489.5"/></g><g id="n73-8"><use href="#c" x="422" y="1489.5"/></g>
<g id="n74-1"><use href="#c" x="76.7" y="1509.7"/></g><g id="n74-2"><use href="#c" x="110" y="1509.7"/></g><g id="n74-3"><use href="#c" x="243.3" y="1509.7"/></g><g id="n74-4"><use href="#c" x="288.7" y="1509.7"/></g><g id="n74-5"><use href="#c" x="322" y="1509.7"/></g><g id="n74-6"><use href="#c" x="355.3" y="1509.7"/></g><g id="n74-7"><use href="#c" x="388.7" y="1509.7"/></g><g id="n74-8"><use href="#c" x="422" y="1509.7"/></g>
<g id="n75-1"><use href="#c" x="76.7" y="1530"/></g><g id="n75-2"><use href="#c" x="110" y="1530"/></g><g id="n75-3"><use href="#c" x="243.3" y="1530"/></g><g id="n75-4"><use href="#c" x="288.7" y="1530"/></g><g id="n75-5"><use href="#c" x="322" y="1530"/></g><g id="n75-6"><use href="#c" x="355.3" y="1530"/></g><g id="n75-7"><use href="#c" x="422" y="1530"/></g>
<g id="n76-1"><use href="#c" x="76.7" y="1550.3"/></g><g id="n76-2"><use href="#c" x="110" y="1550.3"/></g><g id="n76-3"><use href="#c" x="243.3" y="1550.3"/></g><g id="n76-4"><use href="#c" x="288.7" y="1550.3"/></g><g id="n76-5"><use href="#c" x="322" y="1550.3"/></g><g id="n76-6"><use href="#c" x="355.3" y="1550.3"/></g><g id="n76-7"><use href="#c" x="422" y="1550.3"/></g>
<g id="n77-1"><use href="#c" x="76.7" y="1570.5"/></g><g id="n77-2"><use href="#c" x="110" y="1570.5"/></g><g id="n77-3"><use href="#c" x="243.3" y="1570.5"/></g><g id="n77-4"><use href="#c" x="295.3" y="1570.5"/></g>
<g id="n78-1"><use href="#c" x="76.7" y="1590.8"/></g><g id="n78-2"><use href="#c" x="110" y="1590.8"/></g><g id="n78-3"><use href="#c" x="243.3" y="1590.8"/></g><g id="n78-4"><use href="#c" x="298" y="1590.8"/></g>
<g id="n79-1"><use href="#c" x="76.7" y="1611.1"/></g><g id="n79-2"><use href="#c" x="243.3" y="1611.1"/></g><g id="n79-3"><use href="#c" x="306" y="1611.1"/></g>
<g id="n80-1"><use href="#c" x="76.7" y="1631.3"/></g><g id="n80-2"><use href="#c" x="243.3" y="1631.3"/></g><g id="n80-3"><use href="#c" x="322" y="1631.3"/></g>
<g id="n81-1"><use href="#c" x="76.7" y="1651.6"/></g><g id="n81-2"><use href="#c" x="210" y="1651.6"/></g><g id="n81-3"><use href="#c" x="243.3" y="1651.6"/></g><g id="n81-4"><use href="#c" x="276.7" y="1651.6"/></g><g id="n81-5"><use href="#c" x="326" y="1651.6"/></g>
<g id="n82-1"><use href="#c" x="76.7" y="1671.9"/></g><g id="n82-2"><use href="#c" x="210" y="1671.9"/></g><g id="n82-3"><use href="#c" x="243.3" y="1671.9"/></g><g id="n82-4"><use href="#c" x="276.7" y="1671.9"/></g><g id="n82-5"><use href="#c" x="334" y="1671.9"/></g>
<g id="n83-1"><use href="#c" x="76.7" y="1692.1"/></g><g id="n83-2"><use href="#c" x="210" y="1692.1"/></g><g id="n83-3"><use href="#c" x="243.3" y="1692.1"/></g><g id="n83-4"><use href="#c" x="276.7" y="1692.1"/></g><g id="n83-5"><use href="#c" x="310" y="1692.1"/></g><g id="n83-6"><use href="#c" x="343.3" y="1692.1"/></g>
<g id="n84-1"><use href="#c" x="76.7" y="1712.4"/></g><g id="n84-2"><use href="#c" x="210" y="1712.4"/></g><g id="n84-3"><use href="#c" x="243.3" y="1712.4"/></g><g id="n84-4"><use href="#c" x="276.7" y="1712.4"/></g><g id="n84-5"><use href="#c" x="310" y="1712.4"/></g><g id="n84-6"><use href="#c" x="343.3" y="1712.4"/></g>
<g id="n85-1"><use href="#c" x="76.7" y="1732.7"/></g><g id="n85-2"><use href="#c" x="176.7" y="1732.7"/></g><g id="n85-3"><use href="#c" x="210" y="1732.7"/></g><g id="n85-4"><use href="#c" x="243.3" y="1732.7"/></g><g id="n85-5"><use href="#c" x="276.7" y="1732.7"/></g><g id="n85-6"><use href="#c" x="310" y="1732.7"/></g><g id="n85-7"><use href="#c" x="343.3" y="1732.7"/></g><g id="n85-8"><use href="#c" x="376.7" y="1732.7"/></g>
<g id="n86-1"><use href="#c" x="76.7" y="1752.9"/></g><g id="n86-2"><use href="#c" x="176.7" y="1752.9"/></g><g id="n86-3"><use href="#c" x="210" y="1752.9"/></g><g id="n86-4"><use href="#c" x="243.3" y="1752.9"/></g><g id="n86-5"><use href="#c" x="276.7" y="1752.9"/></g><g id="n86-6"><use href="#c" x="310" y="1752.9"/></g><g id="n86-7"><use href="#c" x="343.3" y="1752.9"/></g><g id="n86-8"><use href="#c" x="376.7" y="1752.9"/></g>
<g id="n87-1"><use href="#c" x="43.3" y="1773.2"/></g><g id="n87-2"><use href="#c" x="76.7" y="1773.2"/></g><g id="n87-3"><use href="#c" x="110" y="1773.2"/></g><g id="n87-4"><use href="#c" x="143.3" y="1773.2"/></g><g id="n87-5"><use href="#c" x="176.7" y="1773.2"/></g><g id="n87-6"><use href="#c" x="243.3" y="1773.2"/></g><g id="n87-7"><use href="#c" x="312.7" y="1773.2"/></g><g id="n87-8"><use href="#c" x="360.7" y="1773.2"/></g><g id="n87-9"><use href="#c" x="394" y="1773.2"/></g>
<g id="n88-1"><use href="#c" x="43.3" y="1793.5"/></g><g id="n88-2"><use href="#c" x="76.7" y="1793.5"/></g><g id="n88-3"><use href="#c" x="110" y="1793.5"/></g><g id="n88-4"><use href="#c" x="143.3" y="1793.5"/></g><g id="n88-5"><use href="#c" x="176.7" y="1793.5"/></g><g id="n88-6"><use href="#c" x="243.3" y="1793.5"/></g><g id="n88-7"><use href="#c" x="312.7" y="1793.5"/></g><g id="n88-8"><use href="#c" x="360.7" y="1793.5"/></g><g id="n88-9"><use href="#c" x="394" y="1793.5"/></g>
<g id="n89-1"><use href="#c" x="10" y="1813.7"/></g><g id="n89-2"><use href="#c" x="43.3" y="1813.7"/></g><g id="n89-3"><use href="#c" x="76.7" y="1813.7"/></g><g id="n89-4"><use href="#c" x="110" y="1813.7"/></g><g id="n89-5"><use href="#c" x="176.7" y="1813.7"/></g><g id="n89-6"><use href="#c" x="243.3" y="1813.7"/></g><g id="n89-7"><use href="#c" x="312.7" y="1813.7"/></g><g id="n89-8"><use href="#c" x="346" y="1813.7"/></g><g id="n89-9"><use href="#c" x="394" y="1813.7"/></g>
<g id="n90-1"><use href="#c" x="10" y="1834"/></g><g id="n90-2"><use href="#c" x="43.3" y="1834"/></g><g id="n90-3"><use href="#c" x="76.7" y="1834"/></g><g id="n90-4"><use href="#c" x="110" y="1834"/></g><g id="n90-5"><use href="#c" x="176.7" y="1834"/></g><g id="n90-6"><use href="#c" x="243.3" y="1834"/></g><g id="n90-7"><use href="#c" x="312.7" y="1834"/></g><g id="n90-8"><use href="#c" x="346" y="1834"/></g><g id="n90-9"><use href="#c" x="394" y="1834"/></g>
<g id="n91-1"><use href="#c" x="76.7" y="1854.3"/></g><g id="n91-2"><use href="#c" x="110" y="1854.3"/></g><g id="n91-3"><use href="#c" x="176.7" y="1854.3"/></g><g id="n91-4"><use href="#c" x="243.3" y="1854.3"/></g><g id="n91-5"><use href="#c" x="280.7" y="1854.3"/></g><g id="n91-6"><use href="#c" x="314" y="1854.3"/></g><g id="n91-7"><use href="#c" x="347.3" y="1854.3"/></g><g id="n91-8"><use href="#c" x="394" y="1854.3"/></g>
<g id="n92-1"><use href="#c" x="76.7" y="1874.5"/></g><g id="n92-2"><use href="#c" x="110" y="1874.5"/></g><g id="n92-3"><use href="#c" x="176.7" y="1874.5"/></g><g id="n92-4"><use href="#c" x="243.3" y="1874.5"/></g><g id="n92-5"><use href="#c" x="280.7" y="1874.5"/></g><g id="n92-6"><use href="#c" x="314" y="1874.5"/></g><g id="n92-7"><use href="#c" x="347.3" y="1874.5"/></g><g id="n92-8"><use href="#c" x="394" y="1874.5"/></g>
<g id="n93-1"><use href="#c" x="76.7" y="1894.8"/></g><g id="n93-2"><use href="#c" x="176.7" y="1894.8"/></g><g id="n93-3"><use href="#c" x="280.7" y="1894.8"/></g><g id="n93-4"><use href="#c" x="314" y="1894.8"/></g><g id="n93-5"><use href="#c" x="388.7" y="1894.8"/></g><g id="n93-6"><use href="#c" x="422" y="1894.8"/></g>
<g id="n94-1"><use href="#c" x="76.7" y="1915.1"/></g><g id="n94-2"><use href="#c" x="176.7" y="1915.1"/></g><g id="n94-3"><use href="#c" x="280.7" y="1915.1"/></g><g id="n94-4"><use href="#c" x="314" y="1915.1"/></g><g id="n94-5"><use href="#c" x="388.7" y="1915.1"/></g><g id="n94-6"><use href="#c" x="422" y="1915.1"/></g>
<g id="n95-1"><use href="#c" x="76.7" y="1935.3"/></g><g id="n95-2"><use href="#c" x="110" y="1935.3"/></g><g id="n95-3"><use href="#c" x="176.7" y="1935.3"/></g><g id="n95-4"><use href="#c" x="247.3" y="1935.3"/></g><g id="n95-5"><use href="#c" x="280.7" y="1935.3"/></g><g id="n95-6"><use href="#c" x="314" y="1935.3"/></g><g id="n95-7"><use href="#c" x="347.3" y="1935.3"/></g><g id="n95-8"><use href="#c" x="388.7" y="1935.3"/></g>
<g id="n96-1"><use href="#c" x="76.7" y="1955.6"/></g><g id="n96-2"><use href="#c" x="110" y="1955.6"/></g><g id="n96-3"><use href="#c" x="176.7" y="1955.6"/></g><g id="n96-4"><use href="#c" x="247.3" y="1955.6"/></g><g id="n96-5"><use href="#c" x="280.7" y="1955.6"/></g><g id="n96-6"><use href="#c" x="314" y="1955.6"/></g><g id="n96-7"><use href="#c" x="347.3" y="1955.6"/></g><g id="n96-8"><use href="#c" x="388.7" y="1955.6"/></g>
<g id="n97-1"><use href="#c" x="43.3" y="1975.9"/></g><g id="n97-2"><use href="#c" x="76.7" y="1975.9"/></g><g id="n97-3"><use href="#c" x="110" y="1975.9"/></g><g id="n97-4"><use href="#c" x="143.3" y="1975.9"/></g><g id="n97-5"><use href="#c" x="176.7" y="1975.9"/></g><g id="n97-6"><use href="#c" x="210" y="1975.9"/></g><g id="n97-7"><use href="#c" x="243.3" y="1975.9"/></g><g id="n97-8"><use href="#c" x="276.7" y="1975.9"/></g><g id="n97-9"><use href="#c" x="310" y="1975.9"/></g><g id="n97-10"><use href="#c" x="388.7" y="1975.9"/></g>
<g id="n98-1"><use href="#c" x="43.3" y="1996.1"/></g><g id="n98-2"><use href="#c" x="76.7" y="1996.1"/></g><g id="n98-3"><use href="#c" x="110" y="1996.1"/></g><g id="n98-4"><use href="#c" x="143.3" y="1996.1"/></g><g id="n98-5"><use href="#c" x="176.7" y="1996.1"/></g><g id="n98-6"><use href="#c" x="210" y="1996.1"/></g><g id="n98-7"><use href="#c" x="243.3" y="1996.1"/></g><g id="n98-8"><use href="#c" x="276.7" y="1996.1"/></g><g id="n98-9"><use href="#c" x="310" y="1996.1"/></g><g id="n98-10"><use href="#c" x="388.7" y="1996.1"/></g>
<g id="n99-1"><use href="#c" x="76.7" y="2016.4"/></g><g id="n99-2"><use href="#c" x="110" y="2016.4"/></g><g id="n99-3"><use href="#c" x="143.3" y="2016.4"/></g><g id="n99-4"><use href="#c" x="194" y="2016.4"/></g><g id="n99-5"><use href="#c" x="227.3" y="2016.4"/></g><g id="n99-6"><use href="#c" x="388.7" y="2016.4"/></g>
<g id="n100-1"><use href="#c" x="76.7" y="2036.7"/></g><g id="n100-2"><use href="#c" x="110" y="2036.7"/></g><g id="n100-3"><use href="#c" x="143.3" y="2036.7"/></g><g id="n100-4"><use href="#c" x="194" y="2036.7"/></g><g id="n100-5"><use href="#c" x="227.3" y="2036.7"/></g><g id="n100-6"><use href="#c" x="388.7" y="2036.7"/></g>
<g id="n101-1"><use href="#c" x="76.7" y="2056.9"/></g><g id="n101-2"><use href="#c" x="110" y="2056.9"/></g><g id="n101-3"><use href="#c" x="143.3" y="2056.9"/></g><g id="n101-4"><use href="#c" x="194" y="2056.9"/></g><g id="n101-5"><use href="#c" x="227.3" y="2056.9"/></g><g id="n101-6"><use href="#c" x="388.7" y="2056.9"/></g>
<g id="n102-1"><use href="#c" x="76.7" y="2077.2"/></g><g id="n102-2"><use href="#c" x="110" y="2077.2"/></g><g id="n102-3"><use href="#c" x="143.3" y="2077.2"/></g><g id="n102-4"><use href="#c" x="194" y="2077.2"/></g><g id="n102-5"><use href="#c" x="227.3" y="2077.2"/></g><g id="n102-6"><use href="#c" x="388.7" y="2077.2"/></g>
<g id="n103-1"><use href="#c" x="43.3" y="2097.5"/></g><g id="n103-2"><use href="#c" x="76.7" y="2097.5"/></g><g id="n103-3"><use href="#c" x="110" y="2097.5"/></g><g id="n103-4"><use href="#c" x="143.3" y="2097.5"/></g><g id="n103-5"><use href="#c" x="186" y="2097.5"/></g><g id="n103-6"><use href="#c" x="219.3" y="2097.5"/></g><g id="n103-7"><use href="#c" x="388.7" y="2097.5"/></g>
<g id="n104-1"><use href="#c" x="43.3" y="2117.7"/></g><g id="n104-2"><use href="#c" x="76.7" y="2117.7"/></g><g id="n104-3"><use href="#c" x="110" y="2117.7"/></g><g id="n104-4"><use href="#c" x="143.3" y="2117.7"/></g><g id="n104-5"><use href="#c" x="186" y="2117.7"/></g><g id="n104-6"><use href="#c" x="219.3" y="2117.7"/></g><g id="n104-7"><use href="#c" x="388.7" y="2117.7"/></g>
<g id="n105-1"><use href="#c" x="43.3" y="2138"/></g><g id="n105-2"><use href="#c" x="110" y="2138"/></g><g id="n105-3"><use href="#c" x="143.3" y="2138"/></g><g id="n105-4"><use href="#c" x="219.3" y="2138"/></g><g id="n105-5"><use href="#c" x="388.7" y="2138"/></g>
<g id="n106-1"><use href="#c" x="43.3" y="2158.3"/></g><g id="n106-2"><use href="#c" x="110" y="2158.3"/></g><g id="n106-3"><use href="#c" x="143.3" y="2158.3"/></g><g id="n106-4"><use href="#c" x="219.3" y="2158.3"/></g><g id="n106-5"><use href="#c" x="388.7" y="2158.3"/></g>
<g id="n107-1"><use href="#c" x="110" y="2178.5"/></g><g id="n107-2"><use href="#c" x="143.3" y="2178.5"/></g><g id="n107-3"><use href="#c" x="219.3" y="2178.5"/></g><g id="n107-4"><use href="#c" x="388.7" y="2178.5"/></g>
<g id="n108-1"><use href="#c" x="110" y="2198.8"/></g><g id="n108-2"><use href="#c" x="143.3" y="2198.8"/></g><g id="n108-3"><use href="#c" x="219.3" y="2198.8"/></g><g id="n108-4"><use href="#c" x="388.7" y="2198.8"/></g>
<g id="n109-1"><use href="#c" x="110" y="2219.1"/></g><g id="n109-2"><use href="#c" x="203.3" y="2219.1"/></g><g id="n109-3"><use href="#c" x="236.7" y="2219.1"/></g><g id="n109-4"><use href="#c" x="388.7" y="2219.1"/></g>
<g id="n110-1"><use href="#c" x="110" y="2239.3"/></g><g id="n110-2"><use href="#c" x="203.3" y="2239.3"/></g><g id="n110-3"><use href="#c" x="236.7" y="2239.3"/></g><g id="n110-4"><use href="#c" x="388.7" y="2239.3"/></g>
<g id="n111-1"><use href="#c" x="94" y="2259.6"/></g><g id="n111-2"><use href="#c" x="127.3" y="2259.6"/></g><g id="n111-3"><use href="#c" x="203.3" y="2259.6"/></g><g id="n111-4"><use href="#c" x="236.7" y="2259.6"/></g><g id="n111-5"><use href="#c" x="388.7" y="2259.6"/></g>
<g id="n112-1"><use href="#c" x="94" y="2279.9"/></g><g id="n112-2"><use href="#c" x="127.3" y="2279.9"/></g><g id="n112-3"><use href="#c" x="203.3" y="2279.9"/></g><g id="n112-4"><use href="#c" x="236.7" y="2279.9"/></g><g id="n112-5"><use href="#c" x="388.7" y="2279.9"/></g>
<g id="n113-1"><use href="#c" x="94" y="2300.1"/></g><g id="n113-2"><use href="#c" x="127.3" y="2300.1"/></g><g id="n113-3"><use href="#c" x="203.3" y="2300.1"/></g><g id="n113-4"><use href="#c" x="388.7" y="2300.1"/></g>
<g id="n114-1"><use href="#c" x="94" y="2320.4"/></g><g id="n114-2"><use href="#c" x="127.3" y="2320.4"/></g><g id="n114-3"><use href="#c" x="203.3" y="2320.4"/></g><g id="n114-4"><use href="#c" x="388.7" y="2320.4"/></g>
<g id="n115-1"><use href="#c" x="127.3" y="2340.7"/></g><g id="n115-2"><use href="#c" x="203.3" y="2340.7"/></g><g id="n115-3"><use href="#c" x="371.3" y="2340.7"/></g><g id="n115-4"><use href="#c" x="404.7" y="2340.7"/></g>
<g id="n116-1"><use href="#c" x="127.3" y="2360.9"/></g><g id="n116-2"><use href="#c" x="203.3" y="2360.9"/></g><g id="n116-3"><use href="#c" x="371.3" y="2360.9"/></g><g id="n116-4"><use href="#c" x="404.7" y="2360.9"/></g>
<g id="n117-1"><use href="#c" x="127.3" y="2381.2"/></g><g id="n117-2"><use href="#c" x="203.3" y="2381.2"/></g><g id="n117-3"><use href="#c" x="404.7" y="2381.2"/></g>
<g id="n118-1"><use href="#c" x="127.3" y="2401.5"/></g><g id="n118-2"><use href="#c" x="203.3" y="2401.5"/></g><g id="n118-3"><use href="#c" x="404.7" y="2401.5"/></g>
<g id="n119-1"><use href="#c" x="127.3" y="2421.7"/></g><g id="n119-2"><use href="#c" x="203.3" y="2421.7"/></g><g id="n119-3"><use href="#c" x="404.7" y="2421.7"/></g>
<g id="n120-1"><use href="#c" x="127.3" y="2442"/></g><g id="n120-2"><use href="#c" x="203.3" y="2442"/></g><g id="n120-3"><use href="#c" x="404.7" y="2442"/></g>
<g id="n121-1"><use href="#c" x="127.3" y="2462.3"/></g><g id="n121-2"><use href="#c" x="186" y="2462.3"/></g><g id="n121-3"><use href="#c" x="219.3" y="2462.3"/></g><g id="n121-4"><use href="#c" x="388.7" y="2462.3"/></g><g id="n121-5"><use href="#c" x="422" y="2462.3"/></g>
<g id="n122-1"><use href="#c" x="127.3" y="2482.5"/></g><g id="n122-2"><use href="#c" x="186" y="2482.5"/></g><g id="n122-3"><use href="#c" x="219.3" y="2482.5"/></g><g id="n122-4"><use href="#c" x="388.7" y="2482.5"/></g><g id="n122-5"><use href="#c" x="422" y="2482.5"/></g>
<g id="n123-1"><use href="#c" x="111.3" y="2502.8"/></g><g id="n123-2"><use href="#c" x="144.7" y="2502.8"/></g><g id="n123-3"><use href="#c" x="186" y="2502.8"/></g><g id="n123-4"><use href="#c" x="388.7" y="2502.8"/></g><g id="n123-5"><use href="#c" x="422" y="2502.8"/></g>
<g id="n124-1"><use href="#c" x="111.3" y="2523.1"/></g><g id="n124-2"><use href="#c" x="144.7" y="2523.1"/></g><g id="n124-3"><use href="#c" x="186" y="2523.1"/></g><g id="n124-4"><use href="#c" x="388.7" y="2523.1"/></g><g id="n124-5"><use href="#c" x="422" y="2523.1"/></g>
<g id="n125-1"><use href="#c" x="144.7" y="2543.3"/></g><g id="n125-2"><use href="#c" x="355.3" y="2543.3"/></g><g id="n125-3"><use href="#c" x="388.7" y="2543.3"/></g><g id="n125-4"><use href="#c" x="422" y="2543.3"/></g>
<g id="n126-1"><use href="#c" x="144.7" y="2563.6"/></g><g id="n126-2"><use href="#c" x="355.3" y="2563.6"/></g><g id="n126-3"><use href="#c" x="388.7" y="2563.6"/></g><g id="n126-4"><use href="#c" x="422" y="2563.6"/></g>
<g id="n127-1"><use href="#c" x="144.7" y="2583.9"/></g><g id="n127-2"><use href="#c" x="338" y="2583.9"/></g><g id="n127-3"><use href="#c" x="371.3" y="2583.9"/></g><g id="n127-4"><use href="#c" x="404.7" y="2583.9"/></g><g id="n127-5"><use href="#c" x="438" y="2583.9"/></g>
<g id="n128-1"><use href="#c" x="144.7" y="2604.1"/></g><g id="n128-2"><use href="#c" x="338" y="2604.1"/></g><g id="n128-3"><use href="#c" x="371.3" y="2604.1"/></g><g id="n128-4"><use href="#c" x="404.7" y="2604.1"/></g><g id="n128-5"><use href="#c" x="438" y="2604.1"/></g>
<g id="n129-1"><use href="#c" x="144.7" y="2624.4"/></g><g id="n129-2"><use href="#c" x="371.3" y="2624.4"/></g><g id="n129-3"><use href="#c" x="404.7" y="2624.4"/></g><g id="n129-4"><use href="#c" x="438" y="2624.4"/></g>
<g id="n130-1"><use href="#c" x="144.7" y="2644.7"/></g><g id="n130-2"><use href="#c" x="371.3" y="2644.7"/></g><g id="n130-3"><use href="#c" x="404.7" y="2644.7"/></g><g id="n130-4"><use href="#c" x="438" y="2644.7"/></g>
<g id="n131-1"><use href="#c" x="144.7" y="2664.9"/></g><g id="n131-2"><use href="#c" x="371.3" y="2664.9"/></g><g id="n131-3"><use href="#c" x="404.7" y="2664.9"/></g>
<g id="n132-1"><use href="#c" x="144.7" y="2685.2"/></g><g id="n132-2"><use href="#c" x="371.3" y="2685.2"/></g><g id="n132-3"><use href="#c" x="404.7" y="2685.2"/></g>
<g id="n133-1"><use href="#c" x="144.7" y="2705.5"/></g><g id="n133-2"><use href="#c" x="371.3" y="2705.5"/></g><g id="n133-3"><use href="#c" x="404.7" y="2705.5"/></g>
<g id="n134-1"><use href="#c" x="144.7" y="2725.7"/></g><g id="n134-2"><use href="#c" x="371.3" y="2725.7"/></g><g id="n134-3"><use href="#c" x="404.7" y="2725.7"/></g>
<g id="n135-1"><use href="#c" x="404.7" y="2746"/></g>
<g id="n136-1"><use href="#c" x="404.7" y="2766.3"/></g>
<g id="n137-1"><use href="#c" x="388.7" y="2786.5"/></g><g id="n137-2"><use href="#c" x="422" y="2786.5"/></g>
<g id="n138-1"><use href="#c" x="388.7" y="2806.8"/></g><g id="n138-2"><use href="#c" x="422" y="2806.8"/></g>
<g id="n139-1"><use href="#c" x="355.3" y="2827.1"/></g><g id="n139-2"><use href="#c" x="388.7" y="2827.1"/></g><g id="n139-3"><use href="#c" x="422" y="2827.1"/></g>
<g id="n140-1"><use href="#c" x="355.3" y="2847.3"/></g><g id="n140-2"><use href="#c" x="388.7" y="2847.3"/></g><g id="n140-3"><use href="#c" x="422" y="2847.3"/></g>
<g id="n141-1"><use href="#c" x="388.7" y="2867.6"/></g>
<g id="n142-1"><use href="#c" x="388.7" y="2887.9"/></g>
<g id="n143-1"><use href="#c" x="388.7" y="2908.1"/></g>
<g id="n144-1"><use href="#c" x="388.7" y="2928.4"/></g>
<g id="n145-1"><use href="#c" x="388.7" y="2948.7"/></g>
<g id="n146-1"><use href="#c" x="388.7" y="2968.9"/></g>
<g id="n147-1"><use href="#c" x="388.7" y="2989.2"/></g>
<g id="n148-1"><use href="#c" x="388.7" y="3009.5"/></g>
<g id="n149-1"><use href="#c" x="388.7" y="3029.7"/></g>
<g id="n150-1"><use href="#c" x="388.7" y="3050"/></g>
</g>
</svg>
